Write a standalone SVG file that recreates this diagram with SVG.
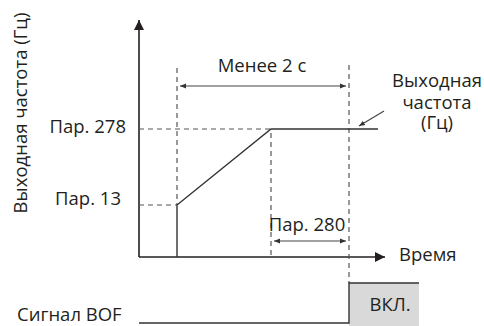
<svg xmlns="http://www.w3.org/2000/svg" width="484" height="326" viewBox="0 0 484 326">
<defs>
<style>
text{font-family:"Open Sans","Liberation Sans",sans-serif;font-size:18.5px;fill:#231f20}
.ax{stroke:#231f20;stroke-width:1.6;fill:none}
.sol{stroke:#333;stroke-width:1.4;fill:none}
.dash{stroke:#555;stroke-width:1.2;stroke-dasharray:5,4;fill:none}
.dim{stroke:#444;stroke-width:1.1;fill:none}
</style>
<marker id="big" viewBox="0 0 10 10" refX="10" refY="5" markerWidth="10" markerHeight="10" markerUnits="userSpaceOnUse" orient="auto-start-reverse"><path d="M0,0 L10,5 L0,10 Z" fill="#231f20"/></marker>
<marker id="sm" viewBox="0 0 10 10" refX="10" refY="5" markerWidth="6" markerHeight="6" markerUnits="userSpaceOnUse" orient="auto-start-reverse"><path d="M0,1 L10,5 L0,9 Z" fill="#333"/></marker>
</defs>
<rect width="484" height="326" fill="#fff"/>
<g id="axes">
<line class="ax" x1="139" y1="257" x2="139" y2="20" marker-end="url(#big)"/>
<line class="ax" x1="139" y1="257" x2="385" y2="257" marker-end="url(#big)"/>
<text x="399" y="261">Время</text>
<text transform="translate(27,113) rotate(-90)" text-anchor="middle">Выходная частота (Гц)</text>
</g>
<g id="connectors">
<line class="dash" x1="139" y1="129" x2="271" y2="129"/>
<line class="dash" x1="139" y1="205" x2="177" y2="205"/>
<line class="dash" x1="177" y1="68" x2="177" y2="205"/>
<line class="dash" x1="271" y1="133" x2="271" y2="257"/>
<line class="dash" x1="349" y1="65" x2="349" y2="283"/>
<line class="dim" x1="180" y1="86" x2="346" y2="86" marker-start="url(#sm)" marker-end="url(#sm)"/>
<line class="dim" x1="274" y1="241" x2="346" y2="241" marker-start="url(#sm)" marker-end="url(#sm)"/>
<line class="dim" x1="384" y1="111" x2="359" y2="126" marker-end="url(#sm)"/>
</g>
<g id="frequency-curve">
<polyline class="sol" points="177,257 177,205 271,129 378,129"/>
</g>
<g id="labels">
<text x="126" y="133" text-anchor="end">Пар. 278</text>
<text x="121" y="205" text-anchor="end">Пар. 13</text>
<text x="262" y="72" text-anchor="middle">Менее 2 с</text>
<text x="307" y="231" text-anchor="middle">Пар. 280</text>
<text x="437" y="87" text-anchor="middle">Выходная</text>
<text x="437" y="109" text-anchor="middle">частота</text>
<text x="437" y="129" text-anchor="middle">(Гц)</text>
</g>
<g id="bof-signal">
<rect x="349" y="283" width="70" height="43" fill="#d9d9d9"/>
<polyline class="sol" points="139,323 349,323 349,283 419,283"/>
<text x="17" y="321">Сигнал BOF</text>
<text x="390" y="311" text-anchor="middle">ВКЛ.</text>
</g>
</svg>
